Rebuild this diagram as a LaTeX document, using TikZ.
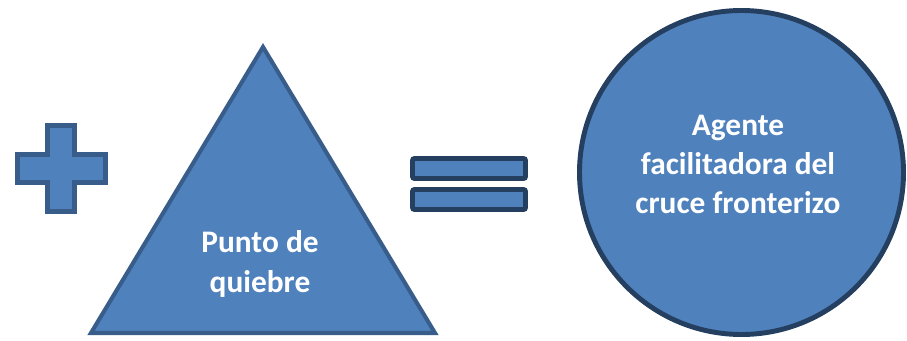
\documentclass[tikz,border=0pt]{standalone}
\usepackage{fontspec}
\setmainfont{Carlito}
\definecolor{figfill}{HTML}{4F81BD}
\definecolor{figline}{HTML}{385D8A}
\definecolor{figdark}{HTML}{243F60}

\begin{document}
\begin{tikzpicture}[x=0.025cm,y=-0.025cm,
  signo/.style={fill=figfill,draw=figline,line width=3.5pt},
  barra/.style={fill=figfill,draw=figdark,line width=3.5pt,rounded corners=1.5pt},
  rotulo/.style={text=white,align=center,inner sep=0pt,
    font=\bfseries\fontsize{22.3}{28.2}\selectfont}]
\useasboundingbox (0,0) rectangle (907,341);
% signo mas
\draw[signo] (47.5,125.5) -- (74.5,125.5) -- (74.5,154.5) -- (105.5,154.5)
  -- (105.5,182.5) -- (74.5,182.5) -- (74.5,211.5) -- (47.5,211.5)
  -- (47.5,182.5) -- (17.5,182.5) -- (17.5,154.5) -- (47.5,154.5) -- cycle;
% triangulo
\draw[signo,line width=2.9pt] (263,47) -- (435,333) -- (91,333) -- cycle;
\node[rotulo] (punto) at (260,264) {Punto de\\quiebre};
% signo igual
\draw[barra] (412.5,158.5) rectangle (525.5,178.5);
\draw[barra] (412.5,189.5) rectangle (525.5,209.5);
% circulo
\draw[signo,draw=figdark] (741.5,172.5) circle[radius=162];
\node[rotulo,font=\bfseries\fontsize{22.3}{27.7}\selectfont] (agente) at (738,164)
  {Agente\\facilitadora del\\cruce fronterizo};
\end{tikzpicture}
\end{document}
